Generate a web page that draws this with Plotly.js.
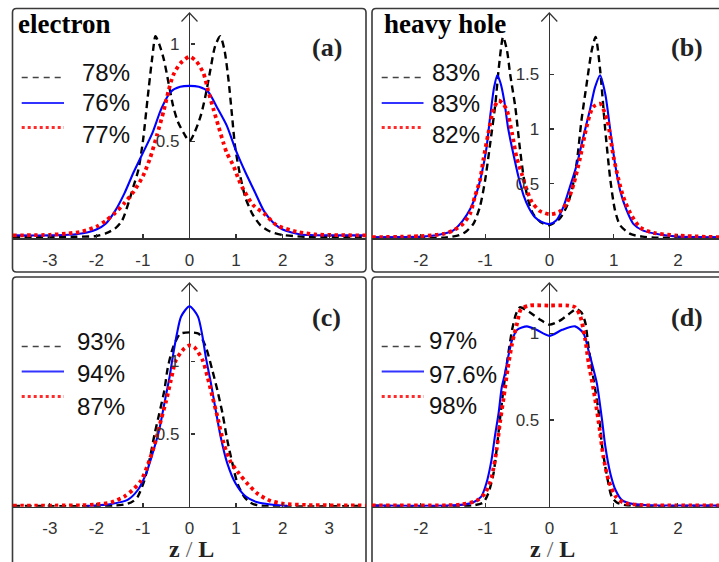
<!DOCTYPE html>
<html>
<head>
<meta charset="utf-8">
<script src="https://cdn.plot.ly/plotly-3.0.1.min.js"></script>
<style>html,body{margin:0;padding:0;background:#fff;}#chart{width:719px;height:562px;}</style>
</head>
<body>
<div id="chart"></div>
<script>
// ---------------- data ----------------
const panelTitles = ['electron', 'heavy hole', '', ''];
const panelLetters = ['(a)', '(b)', '(c)', '(d)'];
const xLabel = 'z / L';

const legendA = ['78%', '76%', '77%'];
const legendB = ['83%', '83%', '82%'];
const legendC = ['93%', '94%', '87%'];
const legendD = ['97%', '97.6%', '98%'];

const xTickValsWide = [-3, -2, -1, 0, 1, 2, 3];
const xTickTextWide = ['-3', '-2', '-1', '0', '1', '2', '3'];
const xTickValsNarrow = [-2, -1, 0, 1, 2];
const xTickTextNarrow = ['-2', '-1', '0', '1', '2'];
const yTickValsA = [0.5, 1];
const yTickValsB = [0.5, 1, 1.5];
const yTickValsC = [0.5, 1];
const yTickValsD = [0.5, 1];

// panel (a) electron
const aBlackX = [-3.79,-2.5,-2.0,-1.8,-1.6,-1.45,-1.3,-1.2,-1.1,-1.0,-0.9,-0.8,-0.73,-0.65,-0.55,-0.45,-0.35,-0.25,-0.12,0,0.1,0.24,0.34,0.45,0.55,0.66,0.75,0.84,0.91,0.98,1.09,1.2,1.34,1.52,1.73,2.0,2.5,3.79];
const aBlackY = [0.008,0.008,0.012,0.025,0.05,0.09,0.19,0.27,0.35,0.50,0.72,0.93,1.04,1.0,0.92,0.8,0.68,0.6,0.54,0.50,0.54,0.63,0.73,0.87,0.99,1.04,0.97,0.81,0.64,0.47,0.32,0.21,0.13,0.068,0.035,0.017,0.008,0.008];
const aBlueX = [-3.79,-3.0,-2.6,-2.4,-2.2,-2.0,-1.8,-1.6,-1.4,-1.2,-1.0,-0.8,-0.6,-0.4,-0.2,0,0.2,0.4,0.6,0.8,1.0,1.2,1.4,1.6,1.8,2.0,2.2,2.4,2.6,3.0,3.79];
const aBlueY = [0.015,0.015,0.018,0.022,0.03,0.045,0.075,0.14,0.23,0.34,0.44,0.54,0.67,0.755,0.78,0.785,0.78,0.755,0.67,0.58,0.45,0.34,0.24,0.14,0.08,0.045,0.03,0.02,0.017,0.015,0.015];
const aRedX = [-3.79,-3.0,-2.6,-2.3,-2.0,-1.8,-1.6,-1.4,-1.2,-1.0,-0.85,-0.7,-0.55,-0.45,-0.35,-0.2,0,0.15,0.3,0.4,0.52,0.63,0.73,0.8,0.95,1.06,1.16,1.37,1.6,1.87,2.3,2.7,3.79];
const aRedY = [0.015,0.018,0.025,0.035,0.06,0.09,0.13,0.18,0.24,0.32,0.41,0.53,0.66,0.76,0.84,0.90,0.935,0.91,0.85,0.76,0.66,0.57,0.49,0.44,0.37,0.30,0.25,0.17,0.128,0.068,0.034,0.02,0.015];

// panel (b) heavy hole
const bBlackX = [-2.76,-1.6,-1.4,-1.3,-1.18,-1.08,-1.0,-0.92,-0.84,-0.79,-0.72,-0.66,-0.61,-0.53,-0.46,-0.40,-0.33,-0.25,-0.14,0,0.16,0.27,0.35,0.43,0.5,0.58,0.66,0.72,0.79,0.87,0.95,1.02,1.1,1.26,1.45,1.7,2.64];
const bBlackY = [0.006,0.008,0.03,0.06,0.135,0.29,0.53,0.87,1.23,1.54,1.84,1.72,1.5,1.2,0.83,0.56,0.35,0.22,0.15,0.12,0.18,0.29,0.44,0.71,1.08,1.41,1.72,1.84,1.54,0.99,0.53,0.26,0.12,0.04,0.015,0.006,0.006];
const bBlueX = [-2.76,-2.0,-1.7,-1.5,-1.35,-1.23,-1.13,-1.05,-0.98,-0.92,-0.86,-0.81,-0.76,-0.70,-0.64,-0.56,-0.48,-0.40,-0.32,-0.22,-0.12,0,0.11,0.22,0.32,0.43,0.53,0.63,0.71,0.79,0.87,0.95,1.02,1.1,1.2,1.31,1.46,1.72,2.0,2.64];
const bBlueY = [0.01,0.015,0.035,0.07,0.16,0.27,0.42,0.6,0.82,1.12,1.38,1.49,1.42,1.25,1.0,0.77,0.56,0.39,0.28,0.19,0.15,0.13,0.165,0.29,0.47,0.68,0.93,1.17,1.38,1.49,1.32,0.98,0.69,0.44,0.26,0.13,0.07,0.035,0.015,0.01];
const bRedX = [-2.76,-2.0,-1.65,-1.5,-1.34,-1.23,-1.16,-1.08,-1.03,-0.95,-0.87,-0.79,-0.72,-0.66,-0.58,-0.51,-0.43,-0.35,-0.27,-0.15,0,0.15,0.27,0.38,0.48,0.58,0.68,0.79,0.9,1.0,1.08,1.15,1.26,1.41,1.62,2.0,2.64];
const bRedY = [0.01,0.02,0.04,0.07,0.135,0.23,0.38,0.53,0.71,0.96,1.18,1.26,1.23,1.17,0.96,0.74,0.59,0.44,0.33,0.25,0.22,0.24,0.32,0.5,0.74,1.02,1.2,1.23,1.08,0.74,0.53,0.38,0.23,0.10,0.05,0.025,0.01];

// panel (c)
const cBlackX = [-3.79,-1.6,-1.33,-1.2,-1.11,-0.97,-0.86,-0.75,-0.65,-0.54,-0.47,-0.36,-0.2,0,0.2,0.35,0.49,0.6,0.71,0.81,0.92,1.03,1.17,1.3,1.46,3.79];
const cBlackY = [0.006,0.007,0.02,0.04,0.07,0.18,0.32,0.50,0.64,0.80,0.95,1.09,1.19,1.20,1.19,1.10,0.94,0.80,0.64,0.46,0.30,0.16,0.07,0.03,0.01,0.006];
const cBlueX = [-2.2,-2.1,-1.68,-1.33,-1.11,-0.93,-0.79,-0.65,-0.54,-0.43,-0.36,-0.27,-0.18,0,0.18,0.28,0.35,0.46,0.56,0.67,0.81,0.99,1.21,1.46,1.74,2.1];
const cBlueY = [0.006,0.007,0.019,0.047,0.115,0.23,0.37,0.53,0.71,0.89,1.03,1.19,1.31,1.38,1.31,1.17,1.03,0.85,0.67,0.48,0.30,0.16,0.07,0.03,0.015,0.006];
const cRedX = [-3.79,-2.9,-2.33,-2.04,-1.68,-1.4,-1.22,-1.04,-0.86,-0.72,-0.61,-0.5,-0.4,-0.29,-0.11,0,0.1,0.28,0.39,0.49,0.6,0.74,0.88,1.06,1.24,1.46,1.74,2.03,2.5,3.79];
const cRedY = [0.008,0.008,0.01,0.015,0.03,0.07,0.115,0.18,0.32,0.46,0.60,0.73,0.87,1.01,1.09,1.11,1.10,1.01,0.89,0.76,0.62,0.43,0.31,0.23,0.16,0.09,0.04,0.02,0.012,0.008];

// panel (d)
const dBlackX = [-2.76,-1.2,-1.03,-0.95,-0.87,-0.82,-0.77,-0.71,-0.64,-0.58,-0.52,-0.46,-0.3,-0.15,0,0.15,0.3,0.42,0.5,0.56,0.61,0.69,0.77,0.82,0.9,0.97,1.05,1.2,2.64];
const dBlackY = [0.006,0.007,0.024,0.077,0.19,0.33,0.50,0.69,0.88,1.02,1.11,1.15,1.12,1.08,1.05,1.07,1.11,1.14,1.12,1.06,0.92,0.73,0.54,0.35,0.17,0.058,0.024,0.008,0.006];
const dBlueX = [-2.76,-1.6,-1.34,-1.19,-1.06,-0.98,-0.9,-0.85,-0.79,-0.74,-0.69,-0.64,-0.58,-0.5,-0.35,-0.2,0,0.2,0.4,0.53,0.61,0.66,0.74,0.82,0.87,0.95,1.03,1.13,1.31,1.6,2.64];
const dBlueY = [0.006,0.007,0.012,0.024,0.058,0.135,0.27,0.40,0.54,0.69,0.77,0.865,0.96,1.02,1.04,1.02,0.985,1.02,1.04,1.0,0.9,0.83,0.71,0.5,0.35,0.19,0.096,0.038,0.015,0.008,0.006];
const dRedX = [-2.76,-1.6,-1.39,-1.13,-1.0,-0.9,-0.82,-0.77,-0.71,-0.65,-0.58,-0.5,-0.44,-0.3,0,0.3,0.4,0.48,0.56,0.61,0.69,0.77,0.84,0.92,1.03,1.15,1.4,2.64];
const dRedY = [0.008,0.008,0.012,0.035,0.077,0.17,0.33,0.48,0.63,0.79,0.94,1.06,1.14,1.16,1.16,1.16,1.15,1.1,0.96,0.83,0.67,0.48,0.29,0.154,0.06,0.024,0.01,0.008];

// ---------------- layout geometry (pixels) ----------------
const W = 719, H = 562;
const px = v => v / W;
const py = v => 1 - v / H;

const STY = [
  {color: '#000000', width: 2.4, dash: '7px,4.5px'},
  {color: '#0000ff', width: 2.1},
  {color: '#ff0000', width: 3.8, dash: '3.5px,3.5px'}
];
function tr(x, y, k, name, ax) {
  return {type: 'scatter', mode: 'lines', x: x, y: y, name: name,
          line: Object.assign({shape: 'spline', smoothing: 0.7}, STY[k]),
          xaxis: 'x' + ax, yaxis: 'y' + ax, showlegend: false, hoverinfo: 'skip'};
}
const data = [
  tr(aBlackX, aBlackY, 0, legendA[0], ''), tr(aBlueX, aBlueY, 1, legendA[1], ''), tr(aRedX, aRedY, 2, legendA[2], ''),
  tr(bBlackX, bBlackY, 0, legendB[0], '2'), tr(bBlueX, bBlueY, 1, legendB[1], '2'), tr(bRedX, bRedY, 2, legendB[2], '2'),
  tr(cBlackX, cBlackY, 0, legendC[0], '3'), tr(cBlueX, cBlueY, 1, legendC[1], '3'), tr(cRedX, cRedY, 2, legendC[2], '3'),
  tr(dBlackX, dBlackY, 0, legendD[0], '4'), tr(dBlueX, dBlueY, 1, legendD[1], '4'), tr(dRedX, dRedY, 2, legendD[2], '4')
];

const AXC = '#333333';
const tickFont = {family: 'Liberation Sans, Arial, sans-serif', size: 17, color: '#333333'};

function xax(domPx, range, vals, text, anchor) {
  return {domain: [px(domPx[0]), px(domPx[1])], range: range, showgrid: false, anchor: anchor,
    zeroline: true, zerolinecolor: AXC, zerolinewidth: 1.3,
    showline: true, linecolor: AXC, linewidth: 1.3, mirror: false,
    ticks: 'inside', ticklen: 4, tickcolor: AXC, tickwidth: 1.2,
    tickvals: vals, ticktext: text, tickfont: tickFont, ticklabelstandoff: 6,
    fixedrange: true};
}
function yax(domPx, range, vals, posPx) {
  return {domain: [py(domPx[1]), py(domPx[0])], range: range, showgrid: false,
    zeroline: false, showline: false, anchor: 'free', position: px(posPx),
    ticks: 'inside', ticklen: 4, tickcolor: AXC, tickwidth: 1.2,
    tickvals: vals, tickfont: tickFont, ticklabelstandoff: 10, fixedrange: true};
}

// panel boxes (pixels)
const boxes = [[12.5, 8.5, 366, 272], [372, 8.5, 724, 272], [12.5, 277, 366, 568], [372, 277, 724, 568]];
function roundRect(b) {
  const r = 4, [x0, y0, x1, y1] = b;
  const P = (x, y) => px(x) + ',' + py(y);
  return 'M' + P(x0 + r, y0) + ' L' + P(x1 - r, y0) + ' Q' + P(x1, y0) + ' ' + P(x1, y0 + r) +
    ' L' + P(x1, y1 - r) + ' Q' + P(x1, y1) + ' ' + P(x1 - r, y1) +
    ' L' + P(x0 + r, y1) + ' Q' + P(x0, y1) + ' ' + P(x0, y1 - r) +
    ' L' + P(x0, y0 + r) + ' Q' + P(x0, y0) + ' ' + P(x0 + r, y0) + ' Z';
}
const shapes = boxes.map(b => ({type: 'path', xref: 'paper', yref: 'paper', path: roundRect(b),
  line: {color: '#3a3a3a', width: 1.6}, fillcolor: 'rgba(0,0,0,0)', layer: 'below'}));
// arrow heads on vertical axes
const arrowTips = [[189.5, 13], [549.3, 13], [189.5, 283], [549.3, 283]];
arrowTips.forEach(t => {
  shapes.push({type: 'path', xref: 'paper', yref: 'paper',
    path: 'M' + px(t[0] - 8) + ',' + py(t[1] + 8.5) + ' L' + px(t[0]) + ',' + py(t[1]) + ' L' + px(t[0] + 8) + ',' + py(t[1] + 8.5),
    line: {color: AXC, width: 1.2}});
});

const serif = 'Liberation Serif, Times New Roman, serif';
const sans = 'Liberation Sans, Arial, sans-serif';
const annotations = [];
function ann(text, xP, yP, xanchor, font) {
  annotations.push({text: text, x: px(xP), y: py(yP), xref: 'paper', yref: 'paper', xanchor: xanchor, yanchor: 'middle', showarrow: false, font: font});
}
ann('<b>' + panelTitles[0] + '</b>', 16, 24, 'left', {family: serif, size: 27, color: '#000'});
ann('<b>' + panelTitles[1] + '</b>', 382, 24, 'left', {family: serif, size: 27, color: '#000'});
const letterPos = [[327, 47], [687, 47], [326, 317], [687, 317]];
letterPos.forEach((p, i) => ann('<b>' + panelLetters[i] + '</b>', p[0], p[1], 'center', {family: serif, size: 26, color: '#222'}));
[[191, 549], [552, 549]].forEach(p => ann('<b>z</b> <span style="color:#666">/</span> <b>L</b>', p[0], p[1], 'center', {family: serif, size: 24, color: '#222'}));

// legends: sample line + label for each series
const legendSets = [
  {labels: legendA, lineX: [21.7, 64], textX: 80, lineY: [77.5, 103, 127.5], textY: [72.5, 102.5, 134]},
  {labels: legendB, lineX: [381.7, 423.5], textX: 430, lineY: [77.5, 103, 127.5], textY: [72.5, 103, 134.5]},
  {labels: legendC, lineX: [21.7, 64], textX: 75, lineY: [346.5, 371.5, 396.5], textY: [341.5, 373, 406.5]},
  {labels: legendD, lineX: [381.7, 424], textX: 427, lineY: [346.5, 371.5, 396.5], textY: [340.5, 374.5, 405.5]}
];
const legStyle = [
  {color: '#444444', width: 1.6, dash: '6px,5px'},
  {color: '#3333ff', width: 2},
  {color: '#ff2a2a', width: 3, dash: '3px,3px'}
];
legendSets.forEach(L => {
  for (let k = 0; k < 3; k++) {
    shapes.push({type: 'line', xref: 'paper', yref: 'paper', x0: px(L.lineX[0]), x1: px(L.lineX[1]),
      y0: py(L.lineY[k]), y1: py(L.lineY[k]), line: legStyle[k]});
    ann(L.labels[k], L.textX, L.textY[k], 'left', {family: sans, size: 24, color: '#111'});
  }
});

const layout = {
  width: W, height: H, margin: {l: 0, r: 0, t: 0, b: 0}, paper_bgcolor: '#fff', plot_bgcolor: 'rgba(0,0,0,0)',
  showlegend: false,
  xaxis: xax([13, 366], [-3.79, 3.79], xTickValsWide, xTickTextWide, 'y'),
  yaxis: yax([13, 238.3], [0, 1.16], yTickValsA, 189.5),
  xaxis2: xax([372, 719], [-2.76, 2.64], xTickValsNarrow, xTickTextNarrow, 'y2'),
  yaxis2: yax([13, 238.3], [0, 2.06], yTickValsB, 549.3),
  xaxis3: xax([13, 366], [-3.79, 3.79], xTickValsWide, xTickTextWide, 'y3'),
  yaxis3: yax([283, 506.7], [0, 1.54], yTickValsC, 189.5),
  xaxis4: xax([372, 719], [-2.76, 2.64], xTickValsNarrow, xTickTextNarrow, 'y4'),
  yaxis4: yax([283, 506.7], [0, 1.29], yTickValsD, 549.3),
  shapes: shapes, annotations: annotations
};

Plotly.newPlot('chart', data, layout, {staticPlot: true, displayModeBar: false});
</script>
</body>
</html>
